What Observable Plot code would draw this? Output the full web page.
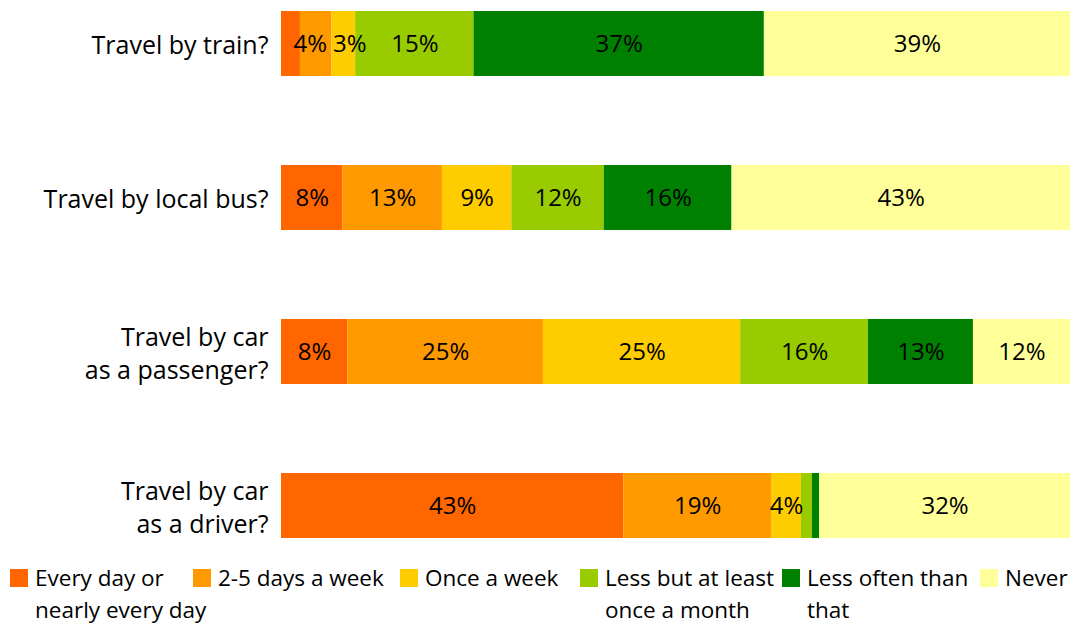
<!DOCTYPE html>
<html><head><meta charset="utf-8">
<script src="https://cdn.jsdelivr.net/npm/d3@7"></script>
<script src="https://cdn.jsdelivr.net/npm/@observablehq/plot@0.6"></script>
<style>
body{margin:0;background:#fff;font-family:"Open Sans",Lato,sans-serif;color:#000;}
#chart svg{display:block;}
#legend{position:relative;height:78px;font-size:22.5px;line-height:32px;}
.item{position:absolute;top:14px;display:flex;align-items:flex-start;}
.sw{width:18px;height:18px;margin-top:7px;margin-right:7px;flex:none;}
.lbl{white-space:pre-line;}
</style></head><body><div id="chart"></div><div id="legend"></div>
<script>
const questions = ["Travel by train?", "Travel by local bus?", "Travel by car\nas a passenger?", "Travel by car\nas a driver?"];
const categories = ["Every day or nearly every day", "2-5 days a week", "Once a week", "Less but at least once a month", "Less often than that", "Never"];
const legendLabels = ["Every day or\nnearly every day", "2-5 days a week", "Once a week", "Less but at least\nonce a month", "Less often than\nthat", "Never"];
const colors = ["#FF6600", "#FF9900", "#FFCC00", "#99CC00", "#008000", "#FFFF99"];
const train = [2.4, 4.0, 3.0, 15.0, 36.8, 38.8];
const localBus = [7.8, 12.6, 8.8, 11.7, 16.2, 42.9];
const carPassenger = [8.4, 24.8, 25.0, 16.2, 13.3, 12.3];
const carDriver = [43.4, 18.7, 3.8, 1.4, 0.9, 31.8];

const series = [train, localBus, carPassenger, carDriver];
const rows = [];
questions.forEach((q, i) => categories.forEach((c, j) => rows.push({question: q, category: c, value: series[i][j]})));

const chart = Plot.plot({
  width: 1076,
  height: 548,
  marginLeft: 281,
  marginRight: 6,
  marginTop: 11,
  marginBottom: 10,
  style: {fontFamily: "'Open Sans', Lato, sans-serif", fontSize: "22px", background: "#fff", color: "#000"},
  x: {domain: [0, 100], axis: null},
  y: {domain: questions, paddingInner: 0.58, paddingOuter: 0, axis: null},
  color: {domain: categories, range: colors},
  marks: [
    Plot.barX(rows, Plot.stackX({x: "value", y: "question", z: "category", fill: "category"})),
    Plot.textX(rows, Plot.stackX({x: "value", y: "question", z: "category",
      text: d => d.value >= 2.5 ? Math.round(d.value) + "%" : "", fill: "#000", fontSize: 24})),
    Plot.axisY({tickSize: 0, tickPadding: 13, fontSize: 25, lineHeight: 1.3, textAnchor: "end", label: null})
  ]
});
document.getElementById("chart").append(chart);

// nudge adjacent value labels apart when they collide
const labels = Array.from(chart.querySelectorAll('g[aria-label="text"] text')).filter(t => t.textContent.trim());
const boxes = labels.map(t => ({t, b: t.getBoundingClientRect(), dx: 0}));
const byRow = d3.group(boxes, o => Math.round(o.b.top / 20));
for (const group of byRow.values()) {
  const items = group.sort((a, b) => a.b.left - b.b.left);
  for (let k = 1; k < items.length; k++) {
    const a = items[k - 1], b = items[k];
    const overlap = (a.b.right + a.dx + 6) - (b.b.left + b.dx);
    if (overlap > 0) { a.dx -= overlap / 2; b.dx += overlap / 2; }
  }
  items.forEach(o => { if (o.dx) o.t.setAttribute("dx", o.dx.toFixed(1)); });
}

const lefts = [10, 193, 400, 580, 782, 980];
const legend = d3.select("#legend");
categories.forEach((c, i) => {
  const it = legend.append("div").attr("class", "item").style("left", lefts[i] + "px");
  it.append("div").attr("class", "sw").style("background", colors[i]);
  it.append("div").attr("class", "lbl").text(legendLabels[i]);
});
</script></body></html>
